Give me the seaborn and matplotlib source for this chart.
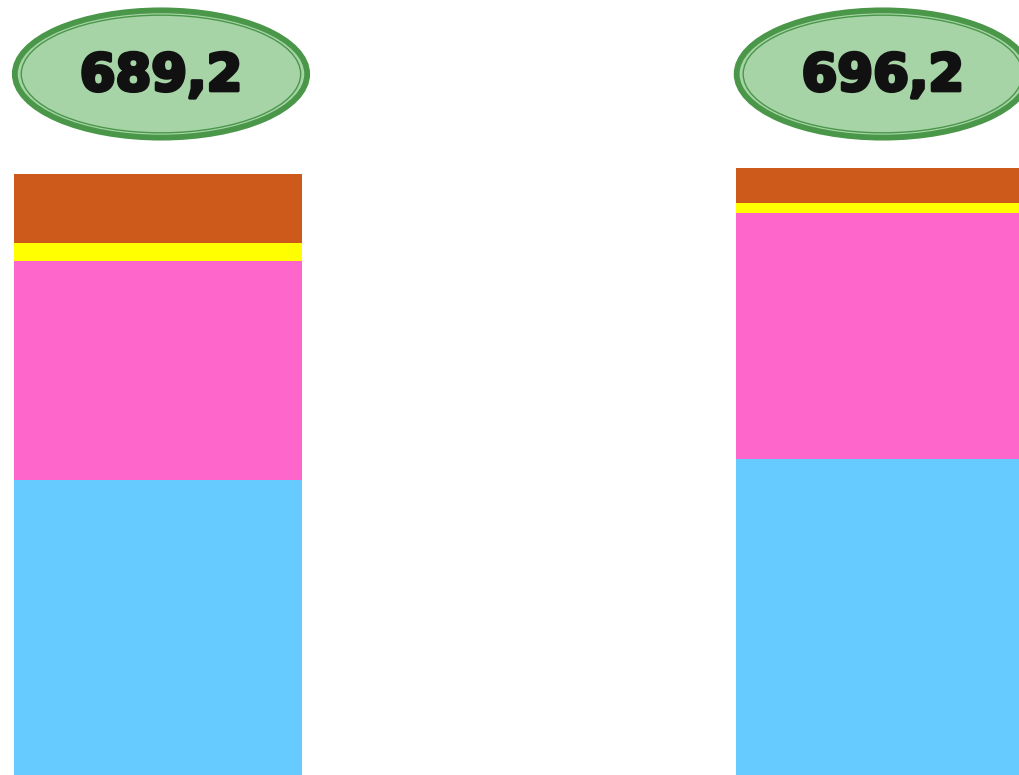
import pandas as pd
import matplotlib.pyplot as plt
import matplotlib.patheffects as pe
import seaborn as sns
from matplotlib.patches import Ellipse

# valores
categorias = ['A', 'B']
azul = [338.1, 362.2]
rosa = [251.6, 282.9]
amarelo = [21.0, 10.8]
laranja = [78.5, 40.3]
totais = ['689,2', '696,2']

cores = ['#66CCFF', '#FF66CC', '#FFFF00', '#CD5A1A']
camadas = [azul, rosa, amarelo, laranja]

df = pd.DataFrame({'cat': categorias})
acum = [0, 0]
for i, c in enumerate(camadas):
    acum = [a + v for a, v in zip(acum, c)]
    df['s%d' % i] = acum

fig = plt.figure(figsize=(10.2, 7.75), dpi=100)
ax = fig.add_axes([0, 0, 1, 1])

# desenha do topo para a base para empilhar
for i in reversed(range(len(camadas))):
    sns.barplot(data=df, x='cat', y='s%d' % i, color=cores[i], width=0.4,
                saturation=1, linewidth=0, ax=ax)

ax.set_xlim(-0.219, 1.194)
ax.set_ylim(0, 889.2)
ax.axis('off')

for i, t in enumerate(totais):
    yc = 804.3
    ax.add_patch(Ellipse((i + 0.004, yc), 0.405, 146, facecolor='#A6D4A6',
                         edgecolor='#4A974A', linewidth=4.2, zorder=5))
    ax.add_patch(Ellipse((i + 0.004, yc), 0.387, 135, facecolor='none',
                         edgecolor='#4A974A', linewidth=1, zorder=6))
    ax.text(i + 0.004, yc - 3, t, ha='center', va='center', fontsize=37,
            fontweight='heavy', color='#111111', zorder=7,
            path_effects=[pe.withStroke(linewidth=2.5, foreground='#111111')])

plt.savefig('out.png', dpi=100)
plt.close()
